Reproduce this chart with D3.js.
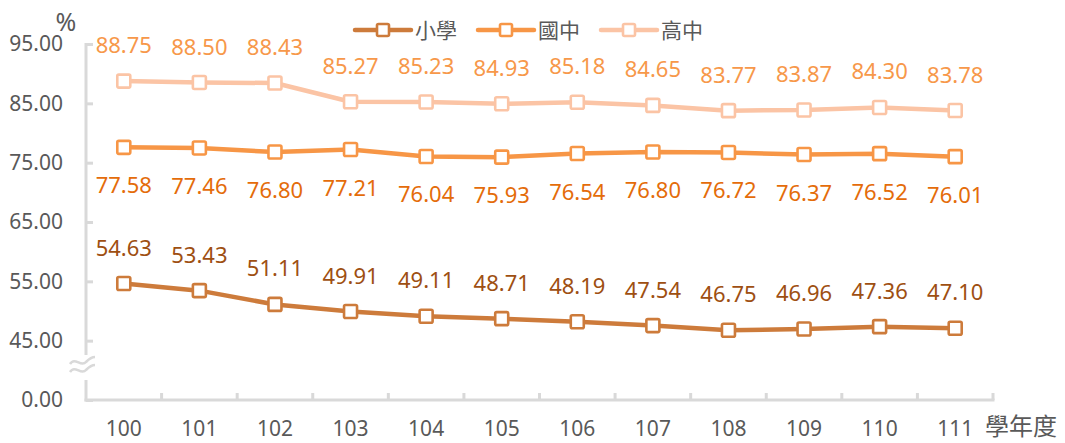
<!DOCTYPE html>
<html><head><meta charset="utf-8">
<script src="https://cdn.jsdelivr.net/npm/d3@7/dist/d3.min.js"></script>
<style>body{margin:0;background:#fff}svg{display:block}</style>
</head><body><svg id="c" width="1065" height="443"></svg>
<script>
const categories = ["100","101","102","103","104","105","106","107","108","109","110","111"];
const seriesNames = ["小學","國中","高中"];
const elementary = [54.63,53.43,51.11,49.91,49.11,48.71,48.19,47.54,46.75,46.96,47.36,47.10];
const junior = [77.58,77.46,76.80,77.21,76.04,75.93,76.54,76.80,76.72,76.37,76.52,76.01];
const senior = [88.75,88.50,88.43,85.27,85.23,84.93,85.18,84.65,83.77,83.87,84.30,83.78];
const tickValues = [35,45,55,65,75,85,95];
const tickLabels = ["0.00","45.00","55.00","65.00","75.00","85.00","95.00"];

(function(){
const series = [
  {name:seriesNames[0], values:elementary, line:"#cd7b3b", label:"#9e4f12", pos:"above"},
  {name:seriesNames[1], values:junior, line:"#f79646", label:"#e46c0a", pos:"below"},
  {name:seriesNames[2], values:senior, line:"#fbc4a5", label:"#f7984a", pos:"above"}
];

const svg = d3.select("#c");
const mL = 86, mR = 993, mT = 44, mB = 400;
const x = d3.scaleBand().domain(categories).range([mL, mR]);
const y = d3.scaleLinear().domain([35,95]).range([mB, mT]);
const font = "'Noto Sans','Noto Sans CJK TC',sans-serif";
const axisColor = "#d9d9d9";

// y axis
const yAxis = svg.append("g").attr("transform",`translate(${mL},0)`)
  .call(d3.axisLeft(y).tickValues(tickValues).tickSize(-7).tickPadding(23)
    .tickFormat((d,i)=>tickLabels[i]));
yAxis.select(".domain").remove();
yAxis.selectAll("line").attr("stroke",axisColor).attr("stroke-width",3);
yAxis.selectAll("text").attr("fill","#595959").style("font-family",font).style("font-size","21px");
// y axis line with break
svg.append("line").attr("x1",mL).attr("x2",mL).attr("y1",mT-1).attr("y2",355)
  .attr("stroke",axisColor).attr("stroke-width",3);
svg.append("line").attr("x1",mL).attr("x2",mL).attr("y1",380).attr("y2",mB+1.5)
  .attr("stroke",axisColor).attr("stroke-width",3);
// break symbol
const wave = (yy)=>`M70,${yy+3} C75,${yy-5} 81,${yy+7} 86,${yy+1} C89,${yy-2} 92,${yy-4} 95,${yy-4}`;
[361,369].forEach(yy=>svg.append("path").attr("d",wave(yy)).attr("fill","none")
  .attr("stroke",axisColor).attr("stroke-width",2.5));

// x axis
const xAxis = svg.append("g").attr("transform",`translate(0,${mB})`)
  .call(d3.axisBottom(x).tickSize(0).tickPadding(21));
xAxis.select(".domain").remove();
xAxis.selectAll("text").attr("fill","#595959").style("font-family",font).style("font-size","21px");
svg.append("line").attr("x1",mL-1.5).attr("x2",mR+1.5).attr("y1",mB).attr("y2",mB)
  .attr("stroke",axisColor).attr("stroke-width",3);
const bounds = categories.map(c=>x(c)+x.bandwidth()).slice(0,-1);
bounds.push(mR);
svg.selectAll(".xt").data(bounds).enter().append("line")
  .attr("x1",d=>d).attr("x2",d=>d).attr("y1",mB).attr("y2",mB-7)
  .attr("stroke",axisColor).attr("stroke-width",3);

svg.append("text").attr("x",1021).attr("y",435).attr("text-anchor","middle")
  .attr("fill","#595959").style("font-family",font).style("font-size","24px").text("學年度");
svg.append("text").attr("x",66).attr("y",31).attr("text-anchor","middle")
  .attr("fill","#595959").style("font-family",font).style("font-size","25px").text("%");

// lines
const cx = c=>x(c)+x.bandwidth()/2;
const lineGen = d3.line().x((d,i)=>cx(categories[i])).y(d=>y(d));
series.forEach(s=>{
  svg.append("path").datum(s.values).attr("d",lineGen).attr("fill","none")
    .attr("stroke",s.line).attr("stroke-width",4.5).attr("stroke-linejoin","round");
  svg.selectAll(null).data(s.values).enter().append("rect")
    .attr("x",(d,i)=>cx(categories[i])-6.5).attr("y",d=>y(d)-6.5)
    .attr("width",13).attr("height",13).attr("rx",1.5)
    .attr("fill","#fff").attr("stroke",s.line).attr("stroke-width",2.6);
  svg.selectAll(null).data(s.values).enter().append("text")
    .attr("x",(d,i)=>cx(categories[i])).attr("y",d=>s.pos==="above"? y(d)-28 : y(d)+46)
    .attr("text-anchor","middle").attr("fill",s.label)
    .style("font-family",font).style("font-size","22px").text(d=>d.toFixed(2));
});

// legend
const lx = [355,478,601];
series.forEach((s,i)=>{
  const g = svg.append("g").attr("transform",`translate(${lx[i]},30)`);
  g.append("line").attr("x1",0).attr("x2",56).attr("y1",0).attr("y2",0)
    .attr("stroke",s.line).attr("stroke-width",4.5).attr("stroke-linecap","round");
  g.append("rect").attr("x",22).attr("y",-6).attr("width",12).attr("height",12).attr("rx",1.5)
    .attr("fill","#fff").attr("stroke",s.line).attr("stroke-width",2.6);
  g.append("text").attr("x",60).attr("y",8).attr("fill","#595959")
    .style("font-family",font).style("font-size","21px").text(s.name);
});
})();
</script></body></html>
